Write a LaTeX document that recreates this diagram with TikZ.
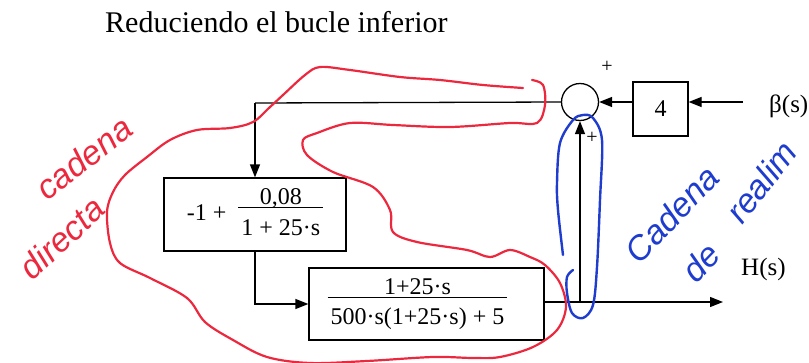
\documentclass[tikz,border=0pt]{standalone}
\usepackage{fontspec}
\setmainfont{Liberation Serif}
\newfontfamily\handfont{Liberation Sans}
\usetikzlibrary{arrows.meta}
\definecolor{penred}{RGB}{236,40,62}
\definecolor{penblue}{RGB}{30,60,205}
\newcommand{\ffrac}[2]{{\setlength{\arrayrulewidth}{1.2pt}\begin{tabular}[c]{@{\hspace{3pt}}c@{\hspace{3pt}}}#1\\[-6pt]\hline\rule{0pt}{27pt}#2\end{tabular}}}
\tikzset{
  blk/.style={draw, line width=1.3pt, inner sep=0pt, font=\fontsize{24}{28}\selectfont},
  wire/.style={line width=1.3pt},
  arr/.style={wire, -{Triangle[length=13pt,width=10pt]}},
  lbl/.style={font=\fontsize{25}{28}\selectfont, inner sep=0pt},
  sgn/.style={font=\fontsize{20}{22}\selectfont, inner sep=0pt},
  redpen/.style={draw=penred, line width=2.2pt, line cap=round, line join=round},
  bluepen/.style={draw=penblue, line width=2.4pt, line cap=round, line join=round},
  redtxt/.style={text=penred, font=\handfont\itshape\fontsize{34}{38}\selectfont, inner sep=0pt},
  bluetxt/.style={text=penblue, font=\handfont\itshape\fontsize{34}{38}\selectfont, inner sep=0pt}
}
\begin{document}
\begin{tikzpicture}[x=1pt, y=-1pt]
\useasboundingbox (0,0) rectangle (809,362);
% title
\node[anchor=base west, inner sep=0pt, font=\fontsize{30}{34}\selectfont] (title) at (105,32) {Reduciendo el bucle inferior};
% blocks
\node[draw, circle, line width=1.3pt, minimum size=37pt, inner sep=0pt] (sum) at (580,102) {};
\node[blk, minimum width=55pt, minimum height=54pt] (k4) at (660.5,109) {4};
\node[blk, minimum width=182pt, minimum height=73pt] (b1) at (255,214.5) {-1 +\hspace{12pt}\ffrac{0,08}{1 + 25·s}};
\node[blk, minimum width=235pt, minimum height=72pt] (b2) at (426.5,304) {\ffrac{1+25·s}{500·s(1+25·s) + 5}\hspace*{18pt}};
% signs and labels
\node[sgn] (p1) at (607,67) {+};
\node[sgn] (p2) at (592,138) {+};
\node[lbl, anchor=west] (beta) at (769,106) {β(s)};
\node[lbl, anchor=west] (hs) at (741,269) {H(s)};
% coordinates
\coordinate (in) at (743,102);
\coordinate (c1) at (255,103);
\coordinate (out) at (723,302);
\coordinate (tap) at (580,302);
% connectors
\draw[arr] (in) -- (k4.east |- in);
\draw[arr] (k4.west |- sum.east) -- (sum.east);
\draw[wire] (sum.west) -- (c1);
\draw[arr] (c1) -- (b1.north);
\draw[arr] (b1.south) |- (b2.west);
\draw[arr] (b2.east |- out) -- (out);
\draw[arr] (tap) -- (sum.south);
% handwritten red loop
\draw[redpen] plot[smooth, tension=0.55] coordinates {
 (523,88) (483,85) (440,80) (400,77) (350,70) (320,67) (305,75) (283,95) (270,107) (253,122) (230,128) (197,130) (170,140) (147,157) (125,175) (113,192) (107,212) (110,243) (120,263) (150,278) (187,298) (205,322) (233,340) (267,357) (310,363) (367,361) (433,357) (473,358) (500,357) (533,347) (557,330) (566,307) (560,283) (545,265) (530,257) (510,250) (490,257) (467,250) (417,242) (393,232) (390,210) (373,187) (333,172) (307,155) (303,140) (317,133) (350,123) (393,125) (450,127) (510,123) (537,123) (545,105) (543,85) (532,80)};
% handwritten blue loop
\draw[bluepen] plot[smooth, tension=0.55] coordinates {
 (563,255) (558,210) (557,183) (560,143) (573,120) (583,115) (593,118) (602,140) (600,200) (597,267) (593,305) (583,318) (572,313) (567,293) (567,277) (573,270)};
% handwritten texts
\node[redtxt, rotate=38] (t1) at (84,158) {cadena};
\node[redtxt, rotate=43] (t2) at (62,238) {directa};
\node[bluetxt, rotate=46] (t3) at (672,214) {Cadena};
\node[bluetxt, rotate=46] (t4) at (701,262) {de};
\node[bluetxt, rotate=52, anchor=base west] (t5) at (742,226) {realim};
\end{tikzpicture}
\end{document}
